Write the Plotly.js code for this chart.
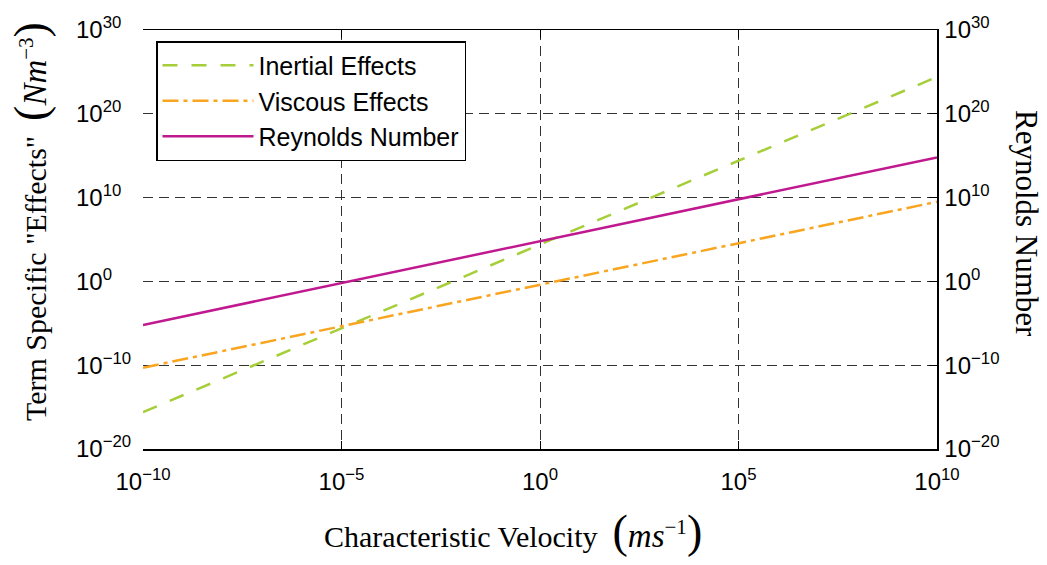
<!DOCTYPE html>
<html>
<head>
<meta charset="utf-8">
<script src="https://cdn.plot.ly/plotly-3.0.1.min.js"></script>
<style>
  html, body { margin: 0; padding: 0; background: #ffffff; }
  #chart { width: 1047px; height: 565px; }
</style>
</head>
<body>
<div id="chart"></div>
<script>
// ---- data ----
var velocity = [1e-10, 1e10];                                   // characteristic velocity (m/s)
var inertialEffects = [Math.pow(10, -15.6), Math.pow(10, 24.4)];  // N m^-3
var viscousEffects  = [Math.pow(10, -10.3), Math.pow(10, 9.5)];   // N m^-3
var reynoldsNumber  = [Math.pow(10, -5.2),  Math.pow(10, 14.8)];

var seriesNames = ['Inertial Effects', 'Viscous Effects', 'Reynolds Number'];

var xTickVals = [1e-10, 1e-5, 1e0, 1e5, 1e10];
var xTickText = ['10<sup>\u221210</sup>', '10<sup>\u22125</sup>', '10<sup>0</sup>', '10<sup>5</sup>', '10<sup>10</sup>'];
var yTickVals = [1e-20, 1e-10, 1e0, 1e10, 1e20, 1e30];
var yTickText = ['10<sup>\u221220</sup>', '10<sup>\u221210</sup>', '10<sup>0</sup>', '10<sup>10</sup>', '10<sup>20</sup>', '10<sup>30</sup>'];

// ---- geometry ----
var W = 1047, H = 565;
var plotL = 143, plotR = 937, plotT = 30, plotB = 449;
var sans = 'Liberation Sans, Arial, sans-serif';
var serif = 'Liberation Serif, Times New Roman, serif';
var tickFont = { family: sans, size: 24, color: '#000' };
var bigParen = function (p) { return '<span style="font-size:46px">' + p + '</span>'; };

var traces = [
  { x: velocity, y: inertialEffects, name: seriesNames[0], type: 'scatter', mode: 'lines',
    line: { color: '#a6ce39', width: 2.5, dash: '15px,14px' } },
  { x: velocity, y: viscousEffects, name: seriesNames[1], type: 'scatter', mode: 'lines',
    line: { color: '#f9a51f', width: 2.5, dash: '16px,5px,4px,5px' } },
  { x: velocity, y: reynoldsNumber, name: seriesNames[2], type: 'scatter', mode: 'lines',
    yaxis: 'y2', line: { color: '#c0198f', width: 2.5 } }
];

var commonY = {
  type: 'log', range: [-20, 30], tickmode: 'array', tickvals: yTickVals, ticktext: yTickText,
  zeroline: false, fixedrange: true
};

var layout = {
  width: W, height: H,
  margin: { l: 0, r: 0, t: 0, b: 0, pad: 0 },
  paper_bgcolor: '#fff', plot_bgcolor: '#fff',
  showlegend: true,
  hovermode: false,
  xaxis: {
    type: 'log', range: [-10, 10], domain: [plotL / W, plotR / W],
    anchor: 'y',
    tickmode: 'array', tickvals: xTickVals, ticktext: xTickText,
    tickfont: tickFont, ticks: 'inside', ticklen: 8, tickcolor: '#000', tickwidth: 1,
    showline: true, linecolor: '#000', linewidth: 1.5, mirror: 'ticks',
    showgrid: true, gridcolor: '#333', gridwidth: 1, griddash: '10px,6px',
    zeroline: false, ticklabelstandoff: 11
  },
  // left tick labels: left-aligned like the reference, so drawn from a free axis set in the margin
  yaxis: Object.assign({}, commonY, {
    domain: [1 - plotB / H, 1 - plotT / H], anchor: 'free', position: 75 / W, side: 'right',
    tickfont: tickFont, ticks: '', showline: false, ticklabelstandoff: 0,
    showgrid: true, gridcolor: '#333', gridwidth: 1, griddash: '10px,6px'
  }),
  yaxis2: Object.assign({}, commonY, {
    overlaying: 'y', side: 'right', anchor: 'x',
    tickfont: tickFont, ticks: 'inside', ticklen: 8, tickcolor: '#000',
    showline: true, linecolor: '#000', linewidth: 1.5, showgrid: false,
    ticklabelstandoff: 1
  }),
  yaxis3: Object.assign({}, commonY, {
    overlaying: 'y', side: 'left', anchor: 'x',
    showticklabels: false, ticks: 'inside', ticklen: 8, tickcolor: '#000',
    showline: true, linecolor: '#000', linewidth: 1.5, showgrid: false
  }),
  legend: {
    x: 156 / W, y: 1 - 41 / H, xanchor: 'left', yanchor: 'top',
    bgcolor: '#fff', bordercolor: '#000', borderwidth: 1.5,
    font: { family: sans, size: 25, color: '#000' },
    itemwidth: 91, tracegroupgap: 0
  },
  annotations: [
    { xref: 'paper', yref: 'paper', x: 513 / W, y: 1 - 531 / H, xanchor: 'center', yanchor: 'middle',
      showarrow: false, font: { family: serif, size: 30, color: '#000' },
      text: 'Characteristic Velocity\u00a0 ' + bigParen('(') + '<i><span style="font-size:33px">ms</span></i><sup>\u22121</sup>' + bigParen(')') },
    { xref: 'paper', yref: 'paper', x: 30 / W, y: 1 - 222 / H, xanchor: 'center', yanchor: 'middle',
      showarrow: false, textangle: -90, font: { family: serif, size: 30, color: '#000' },
      text: 'Term Specific "Effects"\u00a0 ' + bigParen('(') + '<i><span style="font-size:33px">Nm</span></i><sup>\u22123</sup>' + bigParen(')') },
    { xref: 'paper', yref: 'paper', x: 1027 / W, y: 1 - 223 / H, xanchor: 'center', yanchor: 'middle',
      showarrow: false, textangle: 90, font: { family: serif, size: 31, color: '#000' },
      text: 'Reynolds Number' }
  ]
};

Plotly.newPlot('chart', traces, layout, { staticPlot: true, displayModeBar: false });
</script>
</body>
</html>
